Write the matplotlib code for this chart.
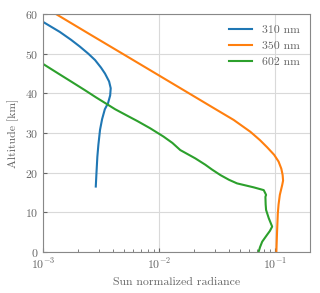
import numpy as np
import matplotlib
matplotlib.use("Agg")
import matplotlib.pyplot as plt

# Altitude profiles (km) and sun-normalized radiance
alt_310 = [58.0, 55.5, 53.5, 51.8, 50.0, 48.4, 46.5, 45.0, 43.0, 41.3, 39.5,
           37.5, 36.0, 33.5, 30.8, 27.0, 24.0, 20.0, 16.5]
rad_310 = [0.00100, 0.00139, 0.00174, 0.00207, 0.00245, 0.00280, 0.00315,
           0.00341, 0.00370, 0.00382, 0.00378, 0.00362, 0.00340, 0.00322,
           0.00309, 0.00299, 0.00293, 0.00288, 0.00284]

alt_350 = [60, 55, 50, 45, 40, 35.8, 33.3, 30.3, 28.2, 26.4, 24.5, 22.8,
           21.0, 19.4, 18.0, 16.9, 15.5, 14.4, 12.0, 9.75, 5, 0]
rad_350 = [0.00129, 0.00249, 0.00483, 0.00935, 0.0181, 0.0315, 0.0439,
           0.0612, 0.0740, 0.0853, 0.0980, 0.1070, 0.1130, 0.1160, 0.1170,
           0.1150, 0.1120, 0.1097, 0.1070, 0.1054, 0.1038, 0.1024]

alt_602 = [47.4, 45, 42.9, 40.8, 39.0, 37.1, 36.0, 34.5, 33.0, 31.2, 29.1,
           27.5, 25.7, 23.6, 22.0, 20.8, 19.4, 18.2, 17.3, 16.3, 15.6, 14.4,
           13.9, 12.0, 10.6, 8.5, 6.4, 5.3, 4.3, 2.6, 1.2, 0.1]
rad_602 = [0.00100, 0.00135, 0.00176, 0.00229, 0.00285, 0.00363, 0.00417,
           0.00520, 0.00650, 0.00836, 0.01090, 0.01300, 0.01520, 0.02050,
           0.02500, 0.02850, 0.03370, 0.04000, 0.04690, 0.06530, 0.07970,
           0.08350, 0.08240, 0.08280, 0.08350, 0.08810, 0.09420, 0.09000,
           0.08500, 0.07730, 0.07400, 0.07210]

series = [
    ("310 nm", rad_310, alt_310, "#1f77b4"),
    ("350 nm", rad_350, alt_350, "#ff7f0e"),
    ("602 nm", rad_602, alt_602, "#2ca02c"),
]

plt.rcParams.update({
    "font.family": "serif",
    "font.serif": ["cmr10", "DejaVu Serif"],
    "mathtext.fontset": "cm",
    "axes.formatter.use_mathtext": True,
    "font.size": 8.5,
    "text.color": "#666666",
    "axes.labelcolor": "#666666",
    "xtick.color": "#666666",
    "ytick.color": "#666666",
    "axes.edgecolor": "#888888",
})

fig = plt.figure(figsize=(3.2, 2.93), dpi=100)
ax = fig.add_axes([0.135, 0.14, 0.834, 0.812])

for label, x, y, color in series:
    ax.plot(x, y, color=color, linewidth=1.5, label=label,
            solid_joinstyle="round")

ax.set_xscale("log")
ax.set_xlim(1e-3, 0.2)
ax.set_ylim(0, 60)
ax.set_yticks(np.arange(0, 61, 10))
ax.grid(True, which="major", color="#d9d9d9", linewidth=0.8)
ax.tick_params(which="both", direction="in", labelsize=8.5)
ax.tick_params(which="major", length=3)
ax.tick_params(which="minor", length=2)
ax.set_xlabel("Sun normalized radiance", fontsize=8.5)
ax.set_ylabel("Altitude [km]", fontsize=8.5)

leg = ax.legend(loc="upper right", frameon=False, fontsize=8.5)
for text in leg.get_texts():
    text.set_color("#666666")

fig.savefig("out.png", dpi=100)
